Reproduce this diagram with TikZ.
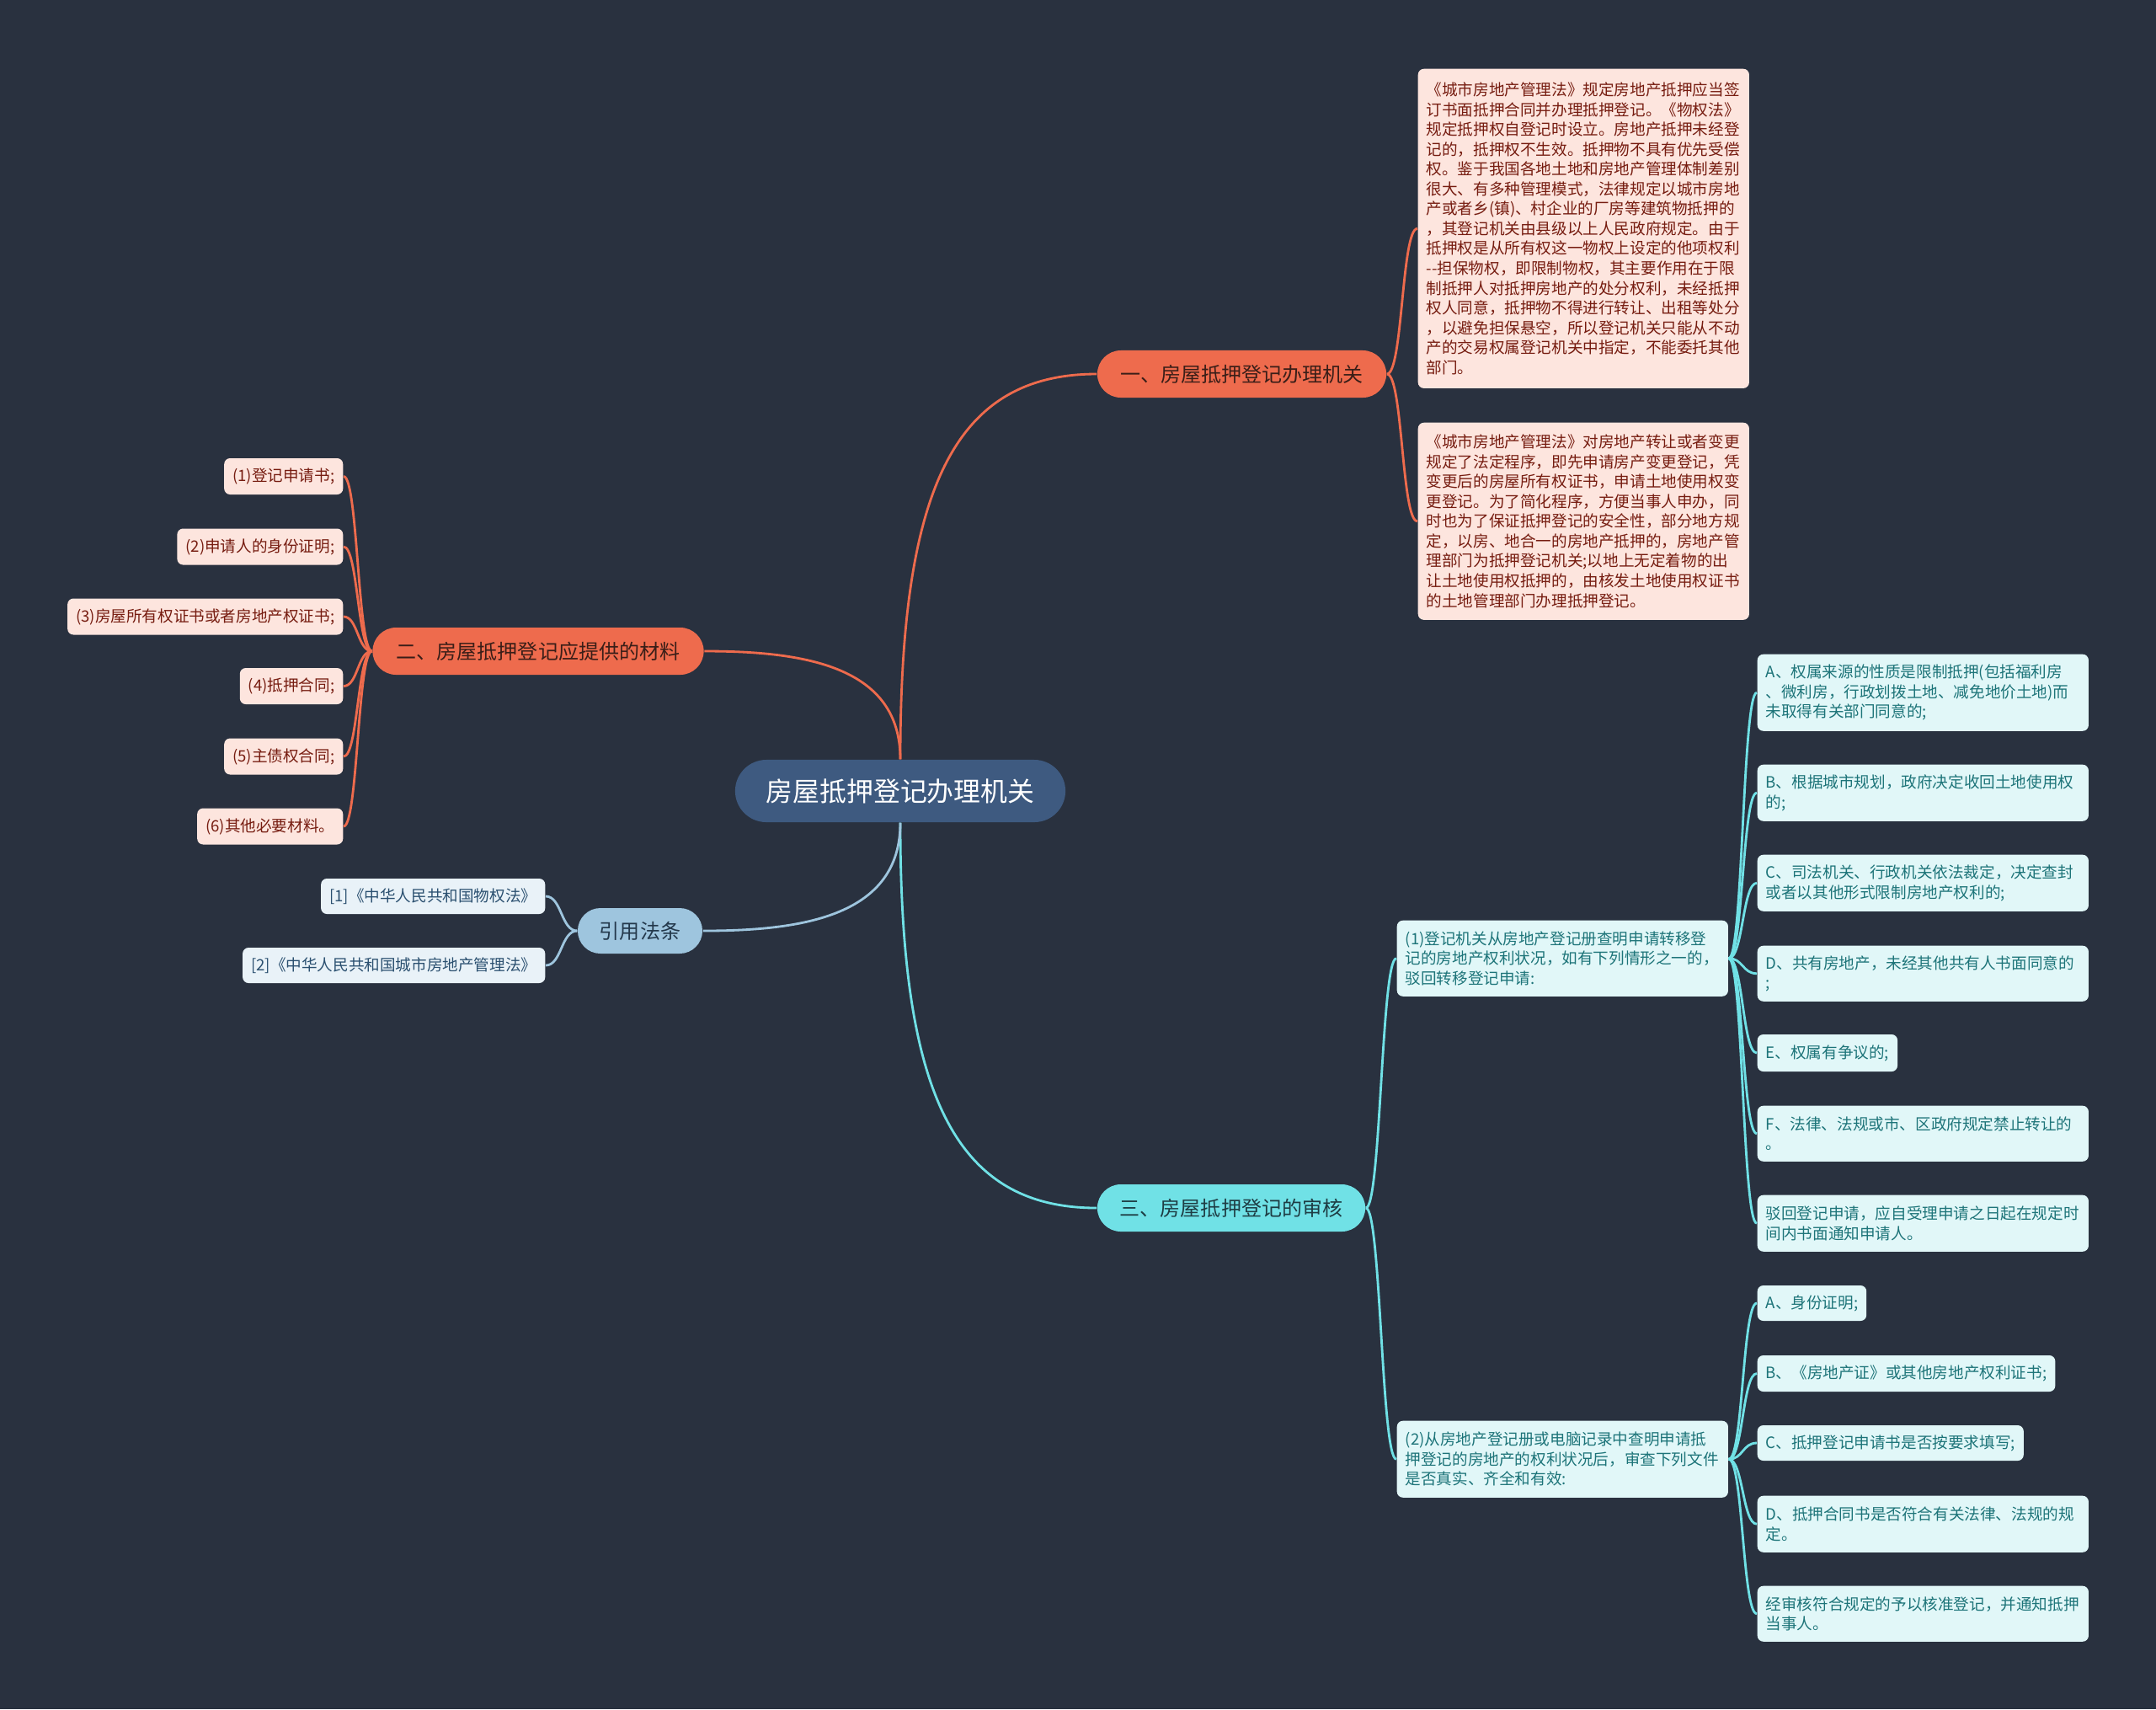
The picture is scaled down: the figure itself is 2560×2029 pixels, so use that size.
\documentclass[tikz,border=0pt]{standalone}
\usepackage{fontspec}
\setmainfont{Noto Sans CJK SC}
\definecolor{bg}{HTML}{29313F}
\definecolor{rootfill}{HTML}{3E5A80}
\definecolor{orange}{HTML}{EE6B4D}
\definecolor{cyanb}{HTML}{70E1E6}
\definecolor{blueb}{HTML}{9EC5DE}
\definecolor{pinkfill}{HTML}{FDE5DE}
\definecolor{pinktext}{HTML}{761C10}
\definecolor{cyanfill}{HTML}{E1F7F8}
\definecolor{cyantext}{HTML}{1D7479}
\definecolor{bluefill}{HTML}{E9F2F8}
\definecolor{bluetext}{HTML}{2B5070}
\definecolor{darktext}{HTML}{3A1E18}
\definecolor{darkcyan}{HTML}{1E3D44}
\definecolor{darkblue}{HTML}{23384B}
\newcommand\smallfs{\fontsize{5.29pt}{6.69pt}\selectfont}
\newcommand\branchfs{\fontsize{6.83pt}{8pt}\selectfont}
\newcommand\rootfs{\fontsize{9.05pt}{11pt}\selectfont}
\begin{document}
\begin{tikzpicture}[x=0.01cm,y=-0.01cm,
  rootnode/.style={fill=rootfill,text=white,font=\rootfs,rounded corners=0.37cm,minimum width=3.92cm,minimum height=0.74cm,inner sep=0pt},
  branchnode/.style={rounded corners=0.28cm,minimum height=0.56cm,inner sep=0pt,font=\branchfs},
  leaf/.style={rounded corners=0.07cm,inner xsep=0.1cm,inner ysep=0.04cm,font=\smallfs,minimum height=0.43cm},
  multi/.style={text width=3.73cm,align=left,minimum width=3.93cm},
  pinkleaf/.style={leaf,fill=pinkfill,text=pinktext},
  cyanleaf/.style={leaf,fill=cyanfill,text=cyantext},
  blueleaf/.style={leaf,fill=bluefill,text=bluetext},
  conn/.style={line width=0.8pt},
  oconn/.style={conn,draw=orange},
  cconn/.style={conn,draw=cyanb},
  bconn/.style={conn,draw=blueb}
]
\useasboundingbox (0,0) rectangle (2560,2029);
\fill[bg] (0,0) rectangle (2560,2029);

% root and branches
\node[rootnode] (root) at (1069,939) {房屋抵押登记办理机关};
\node[branchnode,fill=orange,text=darktext,minimum width=3.43cm] (b1) at (1474.5,444) {一、房屋抵押登记办理机关};
\node[branchnode,fill=orange,text=darktext,minimum width=3.93cm] (b2) at (639,773) {二、房屋抵押登记应提供的材料};
\node[branchnode,fill=cyanb,text=darkcyan,minimum width=3.18cm] (b3) at (1462,1434) {三、房屋抵押登记的审核};
\node[branchnode,fill=blueb,text=darkblue,minimum width=1.48cm,minimum height=0.54cm,rounded corners=0.27cm] (b4) at (760,1105) {引用法条};

% branch 1 leaves
\node[pinkleaf,multi,anchor=north west,minimum height=3.79cm] (p1) at (1683,81) {《城市房地产管理法》规定房地产抵押应当签\\订书面抵押合同并办理抵押登记。《物权法》\\规定抵押权自登记时设立。房地产抵押未经登\\记的，抵押权不生效。抵押物不具有优先受偿\\权。鉴于我国各地土地和房地产管理体制差别\\很大、有多种管理模式，法律规定以城市房地\\产或者乡(镇)、村企业的厂房等建筑物抵押的\\，其登记机关由县级以上人民政府规定。由于\\抵押权是从所有权这一物权上设定的他项权利\\{-}{-}担保物权，即限制物权，其主要作用在于限\\制抵押人对抵押房地产的处分权利，未经抵押\\权人同意，抵押物不得进行转让、出租等处分\\，以避免担保悬空，所以登记机关只能从不动\\产的交易权属登记机关中指定，不能委托其他\\部门。};
\node[pinkleaf,multi,anchor=north west,minimum height=2.34cm] (p2) at (1683,501) {《城市房地产管理法》对房地产转让或者变更\\规定了法定程序，即先申请房产变更登记，凭\\变更后的房屋所有权证书，申请土地使用权变\\更登记。为了简化程序，方便当事人申办，同\\时也为了保证抵押登记的安全性，部分地方规\\定，以房、地合一的房地产抵押的，房地产管\\理部门为抵押登记机关;以地上无定着物的出\\让土地使用权抵押的，由核发土地使用权证书\\的土地管理部门办理抵押登记。};

% branch 2 leaves
\node[pinkleaf,anchor=east] (m1) at (408,565.5) {(1)登记申请书;};
\node[pinkleaf,anchor=east] (m2) at (408,649) {(2)申请人的身份证明;};
\node[pinkleaf,anchor=east] (m3) at (408,732) {(3)房屋所有权证书或者房地产权证书;};
\node[pinkleaf,anchor=east] (m4) at (408,814.5) {(4)抵押合同;};
\node[pinkleaf,anchor=east] (m5) at (408,898) {(5)主债权合同;};
\node[pinkleaf,anchor=east] (m6) at (408,981) {(6)其他必要材料。};

% branch 4 leaves
\node[blueleaf,anchor=east,minimum height=0.42cm] (r1) at (648,1064) {[1]《中华人民共和国物权法》};
\node[blueleaf,anchor=east,minimum height=0.42cm] (r2) at (648,1146) {[2]《中华人民共和国城市房地产管理法》};

% branch 3 leaves
\node[cyanleaf,multi,anchor=north west,minimum height=0.90cm] (s1) at (1658,1092) {(1)登记机关从房地产登记册查明申请转移登\\记的房地产权利状况，如有下列情形之一的，\\驳回转移登记申请:};
\node[cyanleaf,multi,anchor=north west,minimum height=0.91cm] (s2) at (1658,1686) {(2)从房地产登记册或电脑记录中查明申请抵\\押登记的房地产的权利状况后，审查下列文件\\是否真实、齐全和有效:};

% children of (1)
\node[cyanleaf,multi,anchor=north west,minimum height=0.91cm] (a1) at (2086,776) {A、权属来源的性质是限制抵押(包括福利房\\、微利房，行政划拨土地、减免地价土地)而\\未取得有关部门同意的;};
\node[cyanleaf,multi,anchor=north west,minimum height=0.67cm] (a2) at (2086,907) {B、根据城市规划，政府决定收回土地使用权\\的;};
\node[cyanleaf,multi,anchor=north west,minimum height=0.67cm] (a3) at (2086,1014) {C、司法机关、行政机关依法裁定，决定查封\\或者以其他形式限制房地产权利的;};
\node[cyanleaf,multi,anchor=north west,minimum height=0.66cm] (a4) at (2086,1122) {D、共有房地产，未经其他共有人书面同意的\\;};
\node[cyanleaf,anchor=west,minimum height=0.44cm] (a5) at (2086,1250) {E、权属有争议的;};
\node[cyanleaf,multi,anchor=north west,minimum height=0.66cm] (a6) at (2086,1312) {F、法律、法规或市、区政府规定禁止转让的\\。};
\node[cyanleaf,multi,anchor=north west,minimum height=0.67cm] (a7) at (2086,1418) {驳回登记申请，应自受理申请之日起在规定时\\间内书面通知申请人。};

% children of (2)
\node[cyanleaf,anchor=west,minimum height=0.42cm] (c1) at (2086,1547) {A、身份证明;};
\node[cyanleaf,anchor=west,minimum height=0.43cm] (c2) at (2086,1630.5) {B、《房地产证》或其他房地产权利证书;};
\node[cyanleaf,anchor=west,minimum height=0.42cm] (c3) at (2086,1713) {C、抵押登记申请书是否按要求填写;};
\node[cyanleaf,multi,anchor=north west,minimum height=0.67cm] (c4) at (2086,1775) {D、抵押合同书是否符合有关法律、法规的规\\定。};
\node[cyanleaf,multi,anchor=north west,minimum height=0.66cm] (c5) at (2086,1882) {经审核符合规定的予以核准登记，并通知抵押\\当事人。};

% root connectors
\draw[oconn] (root.north) .. controls +(0,-320) and +(-170,0) .. (b1.west);
\draw[oconn] (root.north) .. controls +(0,-110) and +(120,0) .. (b2.east);
\draw[cconn] (root.south) .. controls +(0,320) and +(-170,0) .. (b3.west);
\draw[bconn] (root.south) .. controls +(0,110) and +(120,0) .. (b4.east);

% branch 1
\foreach \n in {p1,p2}
  \draw[oconn] (b1.east) .. controls +(19,0) and +(-19,0) .. (\n.west);
% branch 2
\foreach \n in {m1,m2,m3,m4,m5,m6}
  \draw[oconn] (b2.west) .. controls +(-17,0) and +(17,0) .. (\n.east);
% branch 4
\foreach \n in {r1,r2}
  \draw[bconn] (b4.west) .. controls +(-19,0) and +(19,0) .. (\n.east);
% branch 3
\foreach \n in {s1,s2}
  \draw[cconn] (b3.east) .. controls +(18,0) and +(-18,0) .. (\n.west);
\foreach \n in {a1,a2,a3,a4,a5,a6,a7}
  \draw[cconn] (s1.east) .. controls +(17,0) and +(-17,0) .. (\n.west);
\foreach \n in {c1,c2,c3,c4,c5}
  \draw[cconn] (s2.east) .. controls +(17,0) and +(-17,0) .. (\n.west);
\end{tikzpicture}
\end{document}
